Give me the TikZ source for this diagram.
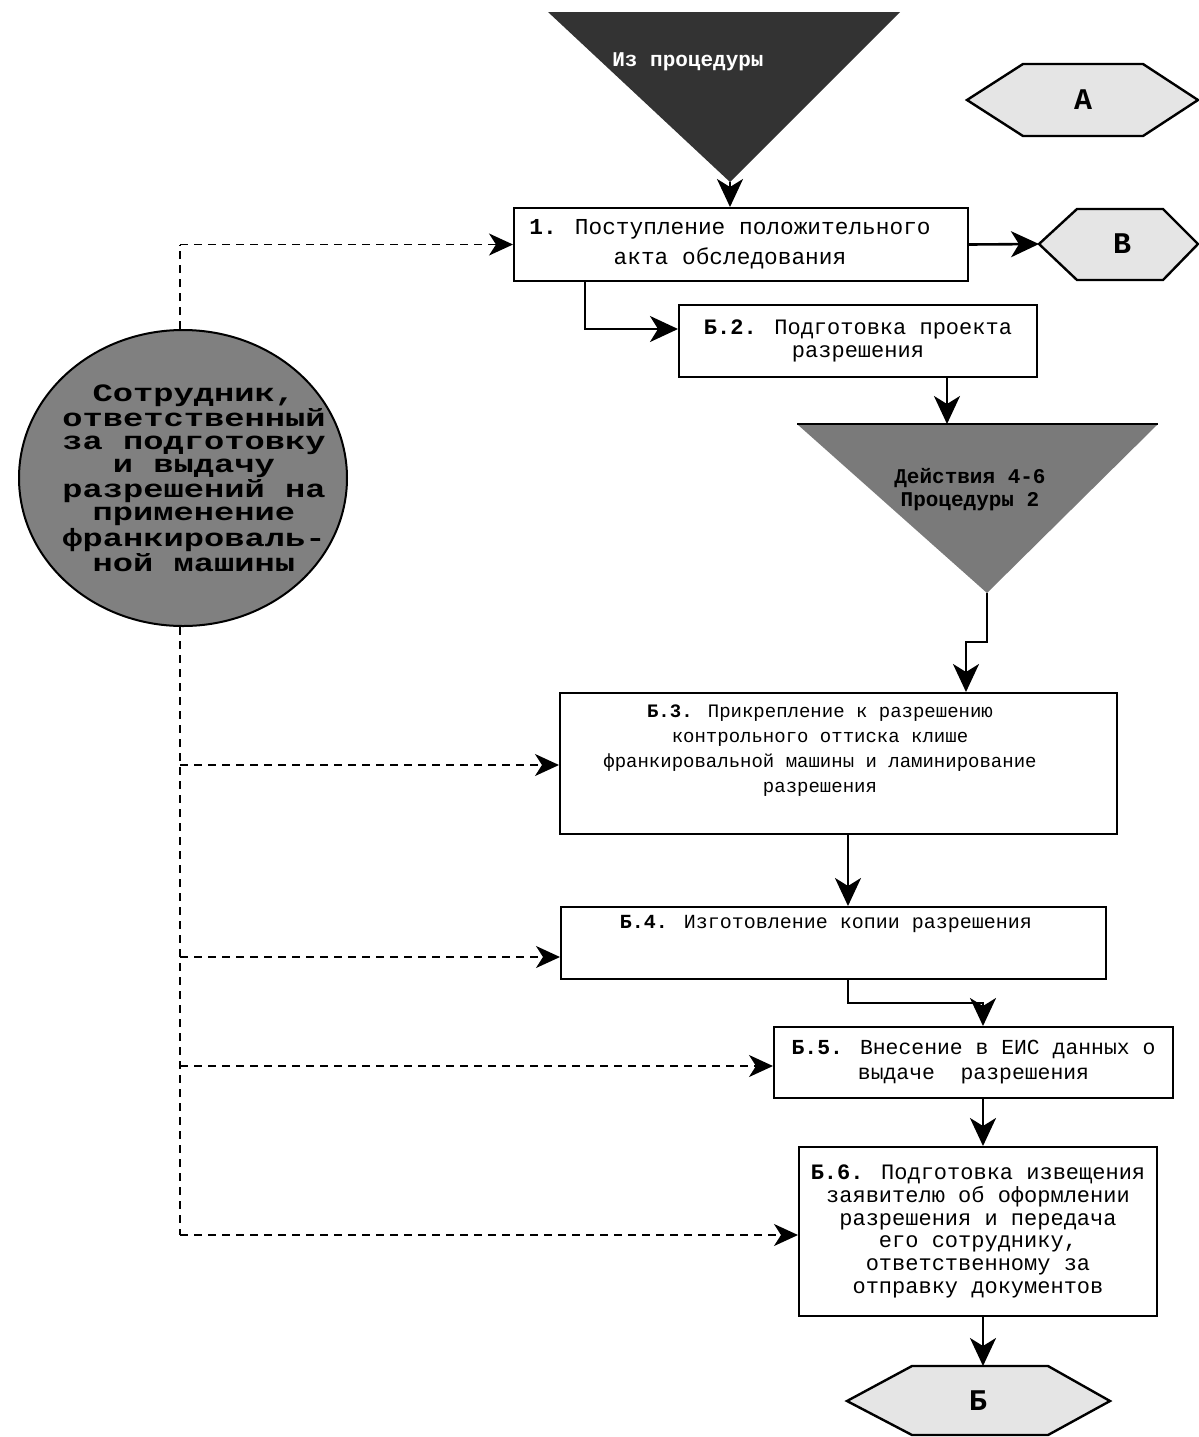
\documentclass[tikz,border=0pt]{standalone}
\usepackage{fontspec}
\setmainfont{Liberation Mono}
\newfontfamily\wmono[FakeStretch=1.35]{Liberation Mono}
\usetikzlibrary{arrows.meta,shapes.geometric}
\tikzset{
  box/.style={draw, line width=1pt, fill=white, inner sep=0pt, align=center},
  btxt/.style={align=center, inner sep=0pt},
  arr/.style={line width=1.3pt, -{Stealth[length=14pt,width=13pt,inset=4pt]}},
  dln/.style={line width=0.9pt, dash pattern=on 4pt off 3pt},
  darr/.style={dln, -{Stealth[length=12pt,width=11pt,inset=3.5pt]}},
  hexa/.style={draw, line width=1.2pt, fill=black!10},
  hexlbl/.style={font=\fontsize{15}{17}\selectfont\bfseries},
}
\begin{document}
\begin{tikzpicture}[x=0.5pt,y=-0.5pt]
\useasboundingbox (0,0) rectangle (1199,1437);

% top triangle
\path[fill=black!80] (548,12) -- (900,12) -- (730,182) -- cycle;
\coordinate (t1tip) at (730,182);
\node[btxt, text=white, font=\fontsize{10.5}{12}\selectfont\bfseries] (t1t) at (688,62) {Из процедуры};

% hexagon A
\draw[hexa] (967,100) -- (1023,64) -- (1143,64) -- (1198,100) -- (1143,136) -- (1023,136) -- cycle;
\node[hexlbl] (hA) at (1083,100) {А};

% hexagon B
\draw[hexa] (1039,244) -- (1077,209) -- (1163,209) -- (1198,244) -- (1163,280) -- (1077,280) -- cycle;
\coordinate (hBw) at (1039,244);
\node[hexlbl] (hB) at (1122,244) {В};

% boxes
\node[box, minimum width=227pt, minimum height=36.5pt] (b1) at (741,244.5) {};
\node[btxt, font=\fontsize{11.4}{15}\selectfont] (b1t) at (730,244.5)
  {\textbf{1.} Поступление положительного\\акта обследования};
\node[box, minimum width=179pt, minimum height=36pt, font=\fontsize{11}{11.5}\selectfont] (b2) at (858,341)
  {\textbf{Б.2.} Подготовка проекта\\разрешения};

% triangle 2
\path[fill=black!52] (797,424) -- (1158,424) -- (987,593) -- cycle;
\draw[line width=1pt] (797,424) -- (1158,424);
\coordinate (t2top) at (947,424);
\coordinate (t2tip) at (987,593);
\node[btxt, font=\fontsize{10.5}{11.5}\selectfont\bfseries] (t2t) at (970,490) {Действия 4-6\\Процедуры 2};

\node[box, minimum width=278.5pt, minimum height=70.5pt] (b3) at (838.5,763.5) {};
\node[btxt, font=\fontsize{9.5}{12.5}\selectfont] (b3t) at (820,751)
  {\textbf{Б.3.} Прикрепление к разрешению\\контрольного оттиска клише\\франкировальной машины и ламинирование\\разрешения};

\node[box, minimum width=272.5pt, minimum height=36pt] (b4) at (833.5,943) {};
\node[btxt, font=\fontsize{10}{12}\selectfont] (b4t) at (826,924) {\textbf{Б.4.} Изготовление копии разрешения};

\node[box, minimum width=199.5pt, minimum height=35.5pt, font=\fontsize{10.7}{12.5}\selectfont] (b5) at (973.5,1062.5)
  {\textbf{Б.5.} Внесение в ЕИС данных о\\выдаче \ разрешения};

\node[box, minimum width=179pt, minimum height=84.5pt, font=\fontsize{11}{11.4}\selectfont] (b6) at (978,1231.5)
  {\textbf{Б.6.} Подготовка извещения\\заявителю об оформлении\\разрешения и передача\\его сотруднику,\\ответственному за\\отправку документов};

% hexagon Б
\draw[hexa] (847,1401) -- (912,1366) -- (1048,1366) -- (1110,1401) -- (1048,1435) -- (912,1435) -- cycle;
\coordinate (hCn) at (983,1366);
\node[hexlbl] (hC) at (978,1401) {Б};

% circle
\node[ellipse, draw, line width=1pt, fill=black!50, minimum width=164pt, minimum height=148pt, inner sep=0pt] (circ) at (183,478) {};
\node[btxt, font=\wmono\bfseries\fontsize{12.5}{11.5}\selectfont] (circt) at (194,478)
  {Сотрудник,\\ответственный\\за подготовку\\и выдачу\\разрешений на\\применение\\франкироваль-\\ной машины};

% solid connectors
\draw[arr] (t1tip) -- (t1tip |- b1.north);
\draw[arr] (b1.east) -- (hBw);
\coordinate (j1) at (585,329);
\draw[arr] (b1.south -| j1) |- (b2.west |- j1);
\draw[arr] (b2.south -| t2top) -- (t2top);
\coordinate (j2) at (966,642);
\draw[arr] (t2tip) |- (j2) -- (b3.north -| j2);
\coordinate (j3) at (848,870);
\draw[arr] (b3.south -| j3) -- (b4.north -| j3);
\coordinate (j4) at (848,1003);
\coordinate (j5) at (983,1003);
\draw[arr] (b4.south -| j4) -- (j4) -- (j5) -- (b5.north -| j5);
\draw[arr] (b5.south -| j5) -- (b6.north -| j5);
\draw[arr] (b6.south -| j5) -- (hCn);

% dashed connectors
\coordinate (d0) at (180,244.5);
\coordinate (d2) at (180,765);
\coordinate (d3) at (180,957);
\coordinate (d4) at (180,1066);
\coordinate (d5) at (180,1235);
\draw[dln] (circ.north -| d0) -- (d0);
\draw[dln] (circ.south -| d0) -- (d5);
\draw[darr] (d0) -- (b1.west);
\draw[darr] (d2) -- (b3.west |- d2);
\draw[darr] (d3) -- (b4.west |- d3);
\draw[darr] (d4) -- (b5.west |- d4);
\draw[darr] (d5) -- (b6.west |- d5);
\end{tikzpicture}
\end{document}
